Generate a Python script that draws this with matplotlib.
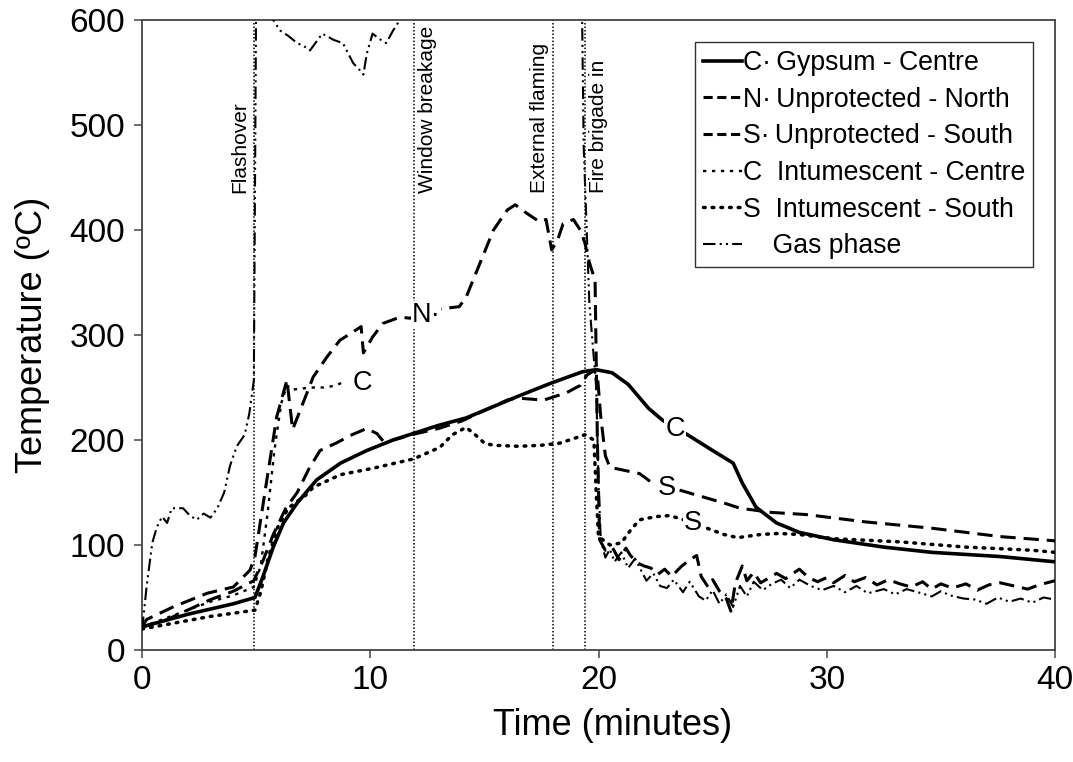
import matplotlib
matplotlib.use("Agg")
import matplotlib.pyplot as plt
from matplotlib.lines import Line2D

plt.rcParams['font.family'] = ['Liberation Sans', 'DejaVu Sans']

# Gypsum - Centre (solid)
t_gyp = [0, 1, 2, 3, 4, 4.95, 5.3, 5.75, 6.2, 6.8, 7.65, 8.7, 9.85, 11.0, 13.0, 14.2, 16.4, 17.9,
         19.3, 19.9, 20.6, 21.3, 22.2, 22.8, 23.9, 25.0, 25.9, 26.3, 26.9, 27.8, 28.8, 30.3, 32.5,
         34.6, 37.6, 40]
T_gyp = [22, 28, 34, 39, 44, 50, 70, 98, 121, 140, 162, 178, 190, 200, 214, 221, 241, 254,
         265, 267, 264, 253, 230, 219, 205, 190, 178, 159, 136, 121, 112, 105, 98,
         93, 89, 84]

# Unprotected - North (dashed)
t_un = [0, 0.2, 1.36, 2.85, 4.0, 4.73, 4.95, 5.47, 5.9, 6.35, 6.6, 7.05, 7.5, 8.1, 8.67, 9.25, 9.6,
        9.7, 10.1, 10.55, 11.3, 11.75, 12.75, 13.9, 14.2, 14.8, 15.4, 16.0, 16.35, 16.85, 17.4,
        17.7, 17.95, 18.2, 18.45, 18.9, 19.2, 19.4, 19.6, 19.85, 19.95, 20.05,
        20.3, 20.6, 20.9, 21.2, 21.4, 21.7, 22.0, 22.3, 22.6, 22.9, 23.2, 23.6, 24.0, 24.3,
        24.5, 24.8, 25.0, 25.3, 25.6, 25.8, 26.0, 26.3, 26.5, 26.8, 27.1, 27.5, 27.8, 28.2,
        28.8, 29.2, 29.6, 30.0, 30.3, 30.8, 31.2, 31.7, 32.2, 32.7, 33.2, 33.7, 34.2, 34.6,
        35.0, 35.5, 36.1, 36.6, 37.1, 37.6, 38.2, 38.8, 39.3, 40]
T_un = [22, 29, 41, 54, 60, 76, 89, 162, 222, 257, 210, 235, 260, 279, 295, 303, 308,
        283, 298, 311, 317, 316, 324, 327, 336, 368, 400, 419, 424, 416, 408,
        410, 381, 390, 406, 410, 400, 388, 369, 352, 200, 105,
        95, 98, 86, 97, 90, 83, 80, 78, 72, 77, 70, 79, 86, 90,
        70, 60, 67, 56, 49, 37, 64, 80, 66, 74, 64, 69, 73, 68,
        77, 69, 65, 69, 64, 71, 65, 69, 62, 67, 63, 60, 65, 58,
        63, 59, 63, 57, 62, 64, 61, 58, 62, 66]

# Unprotected - South (dashed)
t_us = [0, 1, 2, 3, 4, 4.9, 5.3, 5.75, 6.3, 6.8, 7.3, 7.8, 8.5, 9.2, 9.85, 10.3, 10.6, 11.0,
        12.0, 13.0, 14.0, 15.0, 16.0, 16.4, 17.6, 18.6, 19.2, 19.5, 19.8, 19.95, 20.1, 20.3,
        20.5, 21.8, 22.3, 23.0, 23.6, 24.7, 25.5, 26.2, 27.6, 29.1, 31.7, 34.6, 37.6, 40]
T_us = [22, 28, 38, 48, 56, 66, 85, 110, 135, 150, 172, 190, 197, 205, 211, 206, 198, 200,
        206, 211, 218, 228, 238, 240, 238, 245, 252, 262, 266, 262, 222, 185,
        174, 168, 160, 154, 152, 145, 140, 135, 131, 129, 122, 116, 108, 104]

# Intumescent - Centre (fine dots)
t_ic = [0, 1, 2, 3, 4, 4.9, 5.2, 5.5, 5.8, 6.1, 6.35, 6.6, 7.0, 7.5, 8.0, 8.5, 8.8]
T_ic = [22, 30, 38, 46, 52, 60, 80, 130, 190, 235, 252, 248, 249, 250, 250, 252, 255]

# Intumescent - South (round dots)
t_is = [0, 1, 2, 3, 4, 4.95, 5.2, 5.5, 5.9, 6.4, 7.2, 7.5, 8.7, 10.1, 11.9, 13.05, 13.6, 14.2,
        14.6, 15.0, 15.4, 16.5, 17.5, 18.3, 19.0, 19.4, 19.8, 19.9, 20.0, 20.5, 21.0, 21.4,
        21.8, 22.5, 23.1, 23.6, 24.5, 25.0, 25.5, 26.1, 27.1, 27.9, 28.8, 30.3, 33.2, 36.1,
        39.0, 40]
T_is = [20, 24, 28, 32, 35, 38, 55, 85, 115, 135, 148, 155, 167, 173, 182, 193, 205, 212,
        205, 197, 195, 194, 195, 197, 202, 205, 200, 150, 108, 100, 102, 114,
        124, 127, 128, 125, 118, 114, 110, 107, 110, 111, 110, 106, 103, 98,
        95, 93]

# Gas phase (dash-dot-dot)
t_gas = [0, 0.05, 0.2, 0.45, 0.65, 0.88, 1.1, 1.3, 1.8, 2.1, 2.4, 2.7, 3.0, 3.3, 3.6, 3.85, 4.15,
         4.5, 4.7, 4.9, 5.0, 5.3, 5.75, 6.05, 6.4, 6.8, 7.1, 7.36, 7.9, 8.4, 8.8, 9.25, 9.55,
         9.7, 9.85, 10.1, 10.4, 10.7, 11.0, 11.3, 11.6, 13.0, 15.0, 17.0, 19.25, 19.35, 19.6,
         19.9, 20.0, 20.1, 20.3, 20.5, 20.7, 21.0, 21.3, 21.6, 22.1, 22.4, 22.7, 23.0, 23.3,
         23.7, 24.0, 24.4, 24.7, 25.0, 25.3, 25.6, 25.9, 26.2, 26.5, 26.8, 27.2, 27.6, 28.0,
         28.4, 28.8, 29.3, 29.8, 30.3, 30.8, 31.3, 31.8, 32.5, 33.0, 33.5, 34.0, 34.6, 35.0,
         35.4, 36.0, 36.5, 37.0, 37.5, 38.0, 38.5, 39.0, 39.5, 40]
T_gas = [20, 29, 60, 102, 117, 127, 121, 135, 135, 128, 124, 130, 126, 135, 150, 175, 194,
         205, 225, 257, 620, 610, 600, 590, 585, 578, 575, 571, 587, 581, 578, 559, 552,
         548, 568, 587, 582, 578, 590, 600, 640, 680, 700, 690, 660, 480, 330,
         250, 160, 105, 88, 96, 84, 93, 78, 87, 66, 73, 61, 59, 67,
         55, 65, 51, 47, 57, 44, 53, 41, 61, 51, 65, 57, 63, 67,
         59, 67, 61, 57, 61, 55, 61, 54, 58, 53, 58, 55, 51, 56,
         52, 49, 48, 44, 50, 46, 49, 45, 50, 48]

events_t = [4.9, 11.9, 18.0, 19.4]
events_lbl = ['Flashover', 'Window breakage', 'External flaming', 'Fire brigade in']
events_side = [-1, 1, -1, 1]

fig = plt.figure(figsize=(10.73, 7.62), dpi=100)
ax = fig.add_axes([142 / 1073, 112 / 762, 913 / 1073, 630 / 762])

for x, lbl, side in zip(events_t, events_lbl, events_side):
    ax.axvline(x, color='black', lw=1.1, ls=(0, (1, 1.3)), zorder=1)
    ax.text(x + side * 0.6, 435, lbl, rotation=90, ha='center', va='bottom', fontsize=15)

k = dict(color='black', zorder=3)
ax.plot(t_gyp, T_gyp, lw=2.6, solid_capstyle='butt', **k)
ax.plot(t_un, T_un, lw=2.2, dashes=(5, 2.6), **k)
ax.plot(t_us, T_us, lw=2.2, dashes=(5, 2.6), **k)
ax.plot(t_ic, T_ic, lw=1.7, dashes=(1.4, 2.4), **k)
ax.plot(t_is, T_is, lw=2.5, dashes=(0.5, 2.0), dash_capstyle='round', **k)
ax.plot(t_gas, T_gas, lw=1.5, dashes=(6, 2, 1, 2, 1, 2), **k)

lab = dict(fontsize=19.5, ha='center', va='center', zorder=5,
           bbox=dict(facecolor='white', edgecolor='none', pad=0.5))
ax.text(23.35, 210, 'C', **lab)
ax.text(23.0, 154, 'S', **lab)
ax.text(24.15, 121, 'S', **lab)
ax.text(12.45, 319, 'N·', **lab)
ax.text(9.65, 254, 'C', **lab)

# legend
handles = [
    Line2D([], [], color='black', lw=2.6),
    Line2D([], [], color='black', lw=2.2, dashes=(3, 1.5)),
    Line2D([], [], color='black', lw=2.2, dashes=(3, 1.5)),
    Line2D([], [], color='black', lw=1.7, dashes=(1.4, 2.4)),
    Line2D([], [], color='black', lw=2.5, dashes=(0.5, 2.0), dash_capstyle='round'),
    Line2D([], [], color='black', lw=1.5, dashes=(6, 2, 1, 2, 1, 2)),
]
labels = ['C·\u2009Gypsum - Centre', 'N·\u2009Unprotected - North', 'S·\u2009Unprotected - South',
          'C  Intumescent - Centre', 'S  Intumescent - South', '    Gas phase']
leg = ax.legend(handles, labels, loc='upper right', bbox_to_anchor=(0.976, 0.965),
                borderaxespad=0, fontsize=19.2, handlelength=1.45, handletextpad=0.05,
                borderpad=0.3, labelspacing=0.4, fancybox=False, framealpha=1)
leg.get_frame().set_edgecolor('#333333')
leg.get_frame().set_linewidth(1.0)

ax.set_xlim(0, 40)
ax.set_ylim(0, 600)
ax.set_xticks([0, 10, 20, 30, 40])
ax.set_yticks(range(0, 601, 100))
ax.tick_params(labelsize=24, length=6, width=1.2, color='#555555')
ax.tick_params(axis='y', pad=6)
ax.tick_params(axis='x', pad=5)
for s in ax.spines.values():
    s.set_linewidth(1.3)
    s.set_color('#444444')
ax.set_xlabel('Time (minutes)', fontsize=26)
ax.xaxis.set_label_coords(0.515, -0.092)
ax.set_ylabel('Temperature (ºC)', fontsize=26, labelpad=14)

fig.savefig('out.png', dpi=100)
